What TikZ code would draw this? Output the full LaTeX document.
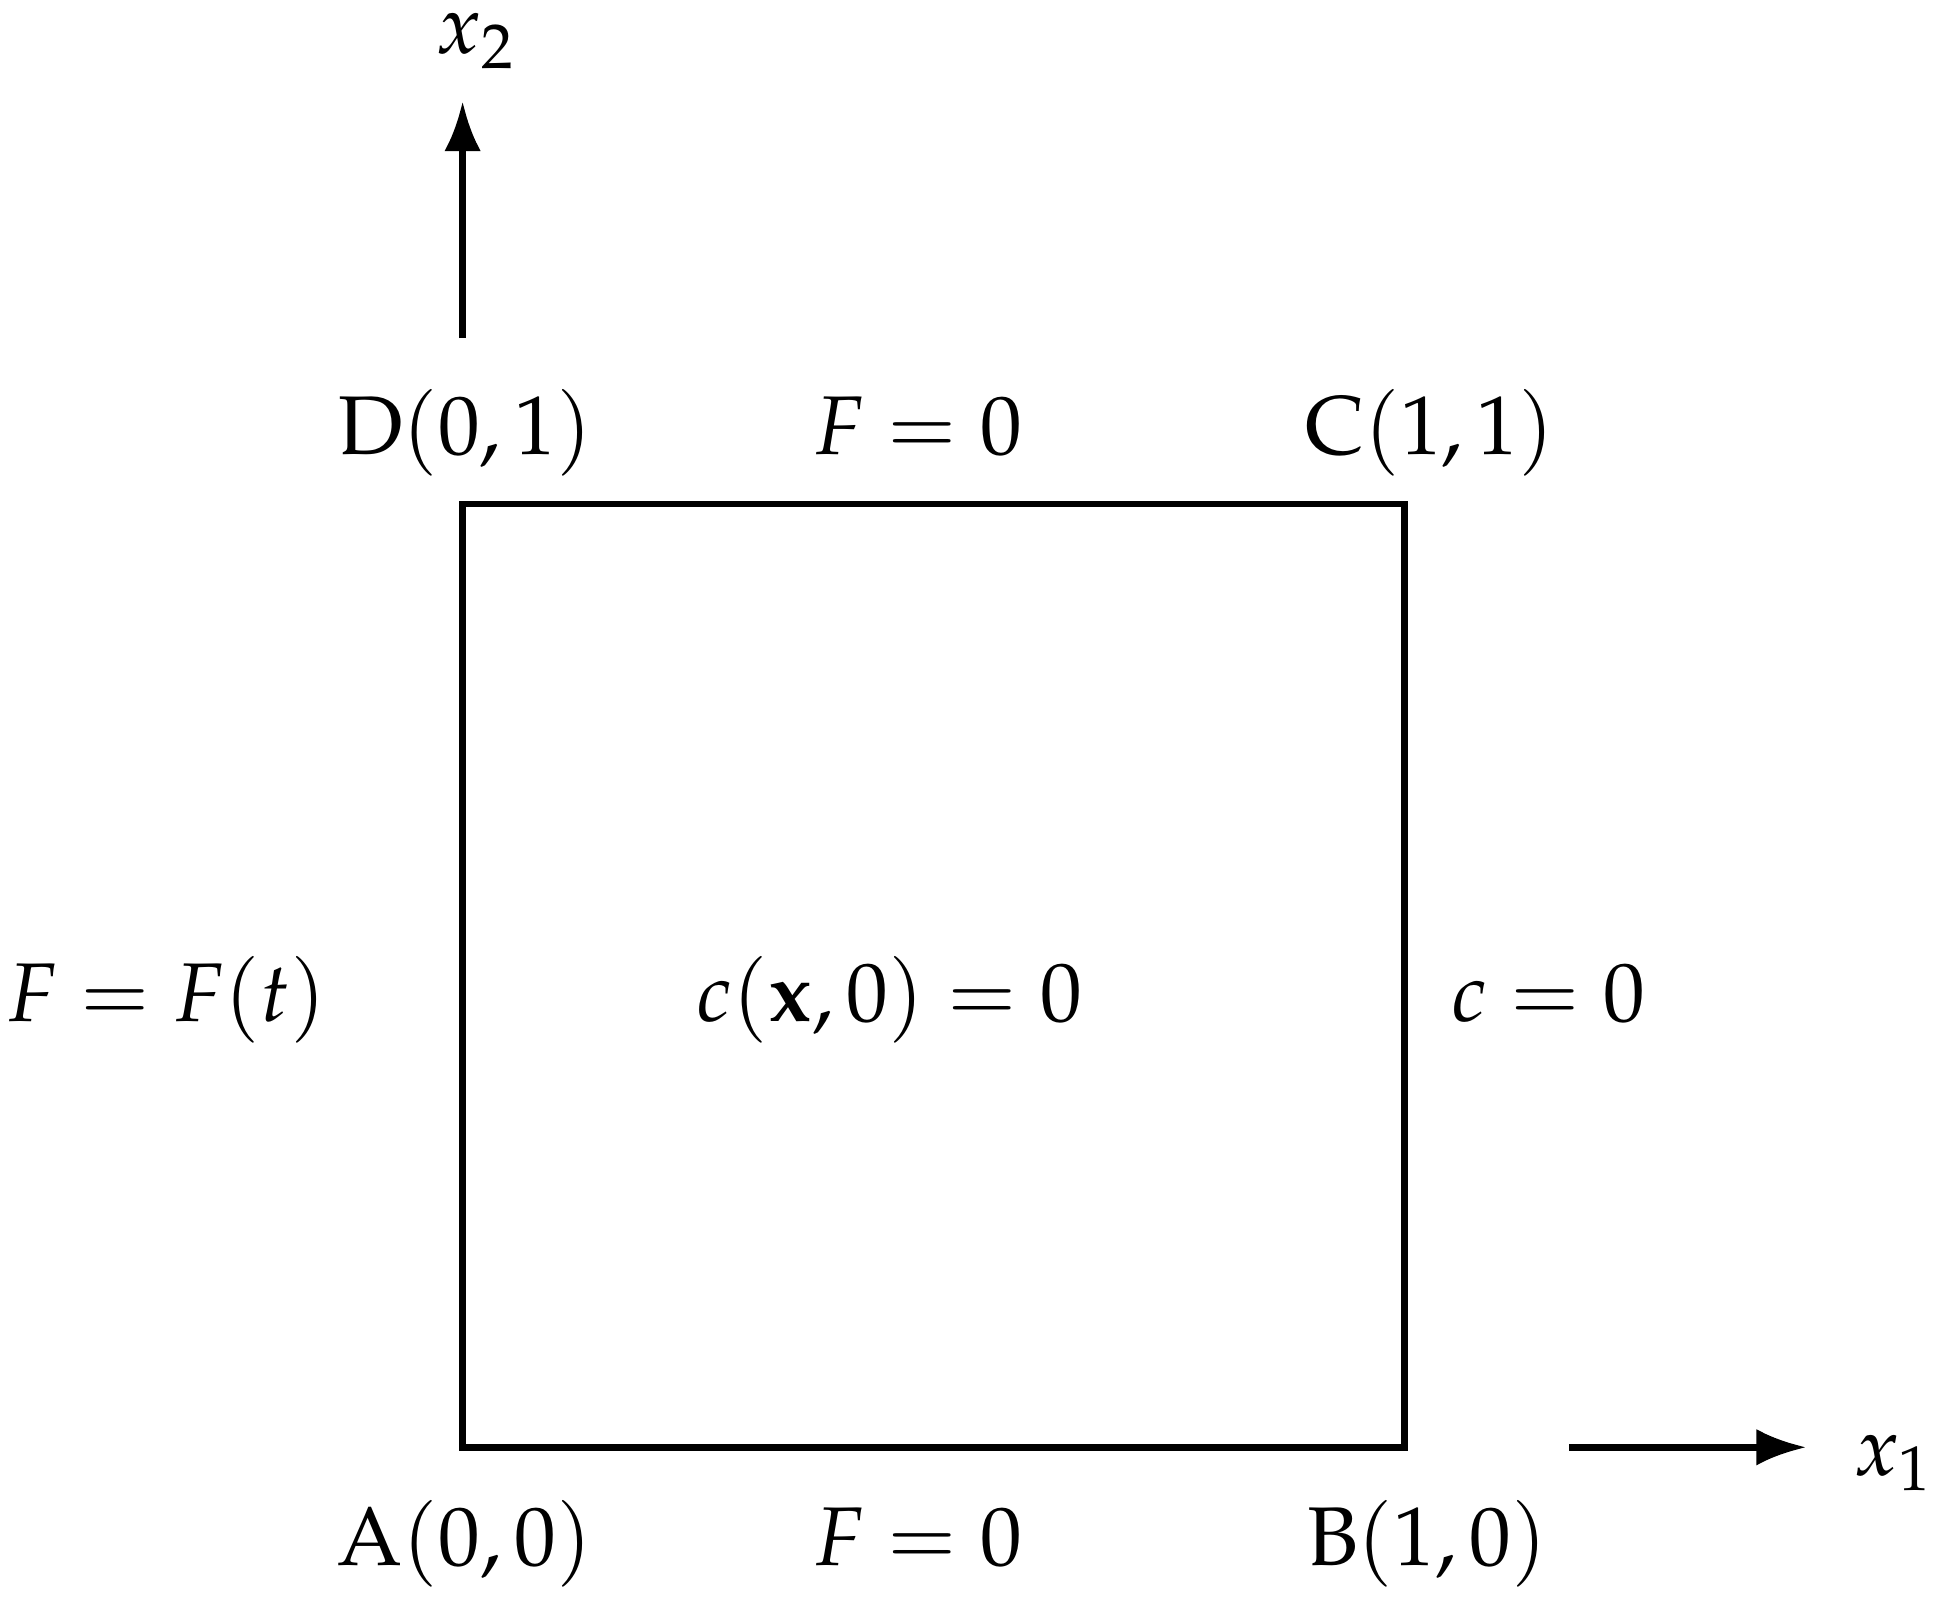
\documentclass[tikz,border=0pt]{standalone}
\usepackage[T1]{fontenc}
\usepackage{mathpazo}
\usetikzlibrary{arrows.meta}
\begin{document}
\begin{tikzpicture}[thick]
	\tikzstyle{lbl} = [anchor=base, inner sep=0pt]
	\tikzstyle{axis} = [-{Latex[length=6pt,width=4.4pt]}]
	\useasboundingbox (-1.952,-0.662) rectangle (6.234,6.127);
	% corners of the domain
	\coordinate (A) at (0,0.02);
	\coordinate (B) at (3.975,0.02);
	\coordinate (C) at (3.975,4);
	\coordinate (D) at (0,4);
	\draw (A)--(B)--(C)--(D)--cycle;
	% axes
	\coordinate (ytail) at (0,4.70);
	\coordinate (yhead) at (0,5.70);
	\coordinate (xtail) at (4.67,0.02);
	\coordinate (xhead) at (5.67,0.02);
	\draw [axis] (ytail)--(yhead);
	\draw [axis] (xtail)--(xhead);
	\node[lbl] (xtwo) at (0.06,5.90) {$x_2$};
	\node[lbl] (xone) at (6.04,-0.097) {$x_1$};
	% corner labels
	\node[lbl] (labA) at (0.01,-0.477) {$\mathrm{A}(0,0)$};
	\node[lbl] (labB) at (4.07,-0.477) {$\mathrm{B}(1,0)$};
	\node[lbl] (labC) at (4.08,4.21) {$\mathrm{C}(1,1)$};
	\node[lbl] (labD) at (0.01,4.21) {$\mathrm{D}(0,1)$};
	% boundary and initial conditions
	\node[lbl] (top) at (1.92,4.21) {$F=0$};
	\node[lbl] (bottom) at (1.92,-0.477) {$F=0$};
	\node[lbl] (left) at (-1.25,1.815) {$F=F(t)$};
	\node[lbl] (right) at (4.58,1.815) {$c=0$};
	\node[lbl] (init) at (1.80,1.815) {$c(\mathbf{x},0)=0$};
\end{tikzpicture}
\end{document}
